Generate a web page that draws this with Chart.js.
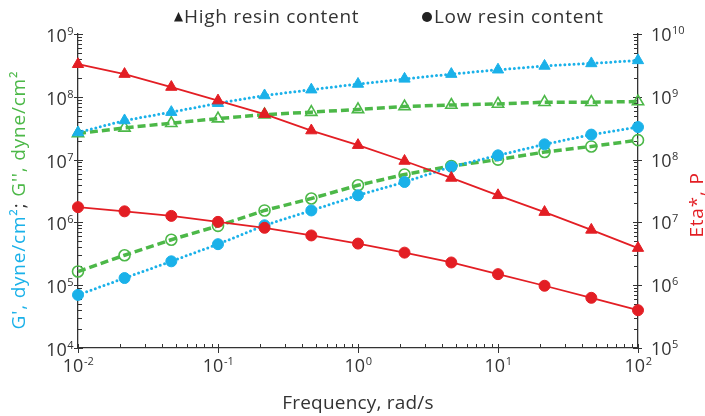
<!DOCTYPE html>
<html>
<head>
<meta charset="utf-8">
<script src="https://cdn.jsdelivr.net/npm/chart.js@4"></script>
<style>
  html, body { margin: 0; padding: 0; background: #fff; }
  #wrap { width: 705px; height: 416px; position: relative; }
</style>
</head>
<body>
<div id="wrap"><canvas id="chart" width="705" height="416"></canvas></div>
<script>
// frequency, rad/s (3 points per decade)
const freq = [0.01, 0.0215, 0.0464, 0.1, 0.215, 0.464, 1, 2.15, 4.64, 10, 21.5, 46.4, 100];

// high resin content
const highGp  = [2.7e7, 4.2e7, 5.7e7, 7.9e7, 1.05e8, 1.3e8, 1.6e8, 1.93e8, 2.3e8, 2.7e8, 3.1e8, 3.4e8, 3.8e8];
const highGpp = [2.6e7, 3.2e7, 3.8e7, 4.5e7, 5.2e7, 5.7e7, 6.3e7, 7.0e7, 7.4e7, 7.7e7, 8.2e7, 8.2e7, 8.4e7];
const highEta = [3.3e9, 2.3e9, 1.43e9, 8.7e8, 5.3e8, 2.9e8, 1.7e8, 9.5e7, 5.1e7, 2.7e7, 1.46e7, 7.6e6, 3.9e6];

// low resin content
const lowGp  = [7.0e4, 1.3e5, 2.4e5, 4.5e5, 9.0e5, 1.55e6, 2.7e6, 4.4e6, 7.7e6, 1.17e7, 1.75e7, 2.5e7, 3.3e7];
const lowGpp = [1.65e5, 3.0e5, 5.3e5, 8.8e5, 1.55e6, 2.4e6, 3.9e6, 5.8e6, 7.9e6, 1.0e7, 1.32e7, 1.62e7, 2.04e7];
const lowEta = [1.75e7, 1.5e7, 1.27e7, 1.02e7, 8.2e6, 6.2e6, 4.6e6, 3.3e6, 2.3e6, 1.5e6, 9.8e5, 6.3e5, 4.0e5];

// tick exponents
const xExp = [-2, -1, 0, 1, 2];
const yExp = [4, 5, 6, 7, 8, 9];
const y2Exp = [5, 6, 7, 8, 9, 10];

const BLUE = '#1ab1e9';
const GREEN = '#4cb848';
const RED = '#e31e24';
const TXT = '#333333';
const FONT = '"Open Sans", "Noto Sans", sans-serif';

const pts = arr => arr.map((v, i) => ({ x: freq[i], y: v }));

function dotted(data, color, style, axis) {
  return {
    data: pts(data), yAxisID: axis,
    borderColor: color, borderWidth: 3, borderDash: [0, 4.6], borderCapStyle: 'round',
    pointStyle: style, pointRadius: style === 'triangle' ? 6.5 : 5.5,
    pointBackgroundColor: color, pointBorderColor: color, pointBorderWidth: 1,
    tension: 0
  };
}
function dashed(data, color, style, axis) {
  return {
    data: pts(data), yAxisID: axis,
    borderColor: color, borderWidth: 3.5, borderDash: [8, 4], borderCapStyle: 'butt',
    pointStyle: style, pointRadius: style === 'triangle' ? 6.5 : 5.5,
    pointBackgroundColor: 'rgba(0,0,0,0)', pointBorderColor: color, pointBorderWidth: 1.6,
    tension: 0
  };
}
function solid(data, color, style, axis) {
  return {
    data: pts(data), yAxisID: axis,
    borderColor: color, borderWidth: 1.8,
    pointStyle: style, pointRadius: style === 'triangle' ? 6.5 : 5.5,
    pointBackgroundColor: color, pointBorderColor: color, pointBorderWidth: 1,
    tension: 0
  };
}

function drawPow(ctx, exp, x, y, align) {
  // "10" with a raised exponent; y is the baseline of "10"
  ctx.font = '18px ' + FONT;
  const w10 = ctx.measureText('10').width;
  ctx.font = '11px ' + FONT;
  const e = String(exp);
  const we = ctx.measureText(e).width;
  let sx = x;
  if (align === 'right') sx = x - w10 - we;
  else if (align === 'center') sx = x - (w10 + we) / 2;
  ctx.fillStyle = TXT;
  ctx.textAlign = 'left';
  ctx.textBaseline = 'alphabetic';
  ctx.font = '18px ' + FONT;
  ctx.fillText('10', sx, y);
  ctx.font = '11px ' + FONT;
  ctx.fillText(e, sx + w10 + 0.5, y - 7);
}

const decor = {
  id: 'decor',
  beforeDatasetsDraw(chart) {
    const ctx = chart.ctx;
    const { x, y, y2 } = chart.scales;
    const a = chart.chartArea;
    ctx.save();
    ctx.strokeStyle = TXT;
    ctx.lineWidth = 1;
    // x ticks
    for (let d = -2; d <= 2; d++) {
      const px = Math.round(x.getPixelForValue(Math.pow(10, d))) + 0.5;
      ctx.beginPath(); ctx.moveTo(px, a.bottom - 4); ctx.lineTo(px, a.bottom + 5); ctx.stroke();
      if (d < 2) {
        for (let m = 2; m <= 9; m++) {
          const mx = Math.round(x.getPixelForValue(m * Math.pow(10, d))) + 0.5;
          ctx.beginPath(); ctx.moveTo(mx, a.bottom); ctx.lineTo(mx, a.bottom - 4); ctx.stroke();
        }
      }
    }
    // left y ticks
    for (let d = 4; d <= 9; d++) {
      const py = Math.round(y.getPixelForValue(Math.pow(10, d))) + 0.5;
      ctx.beginPath(); ctx.moveTo(a.left - 4, py); ctx.lineTo(a.left + 5, py); ctx.stroke();
      if (d < 9) {
        for (let m = 2; m <= 9; m++) {
          const my = Math.round(y.getPixelForValue(m * Math.pow(10, d))) + 0.5;
          ctx.beginPath(); ctx.moveTo(a.left, my); ctx.lineTo(a.left + 4, my); ctx.stroke();
        }
      }
    }
    // right y ticks
    for (let d = 5; d <= 10; d++) {
      const py = Math.round(y2.getPixelForValue(Math.pow(10, d))) + 0.5;
      ctx.beginPath(); ctx.moveTo(a.right - 5, py); ctx.lineTo(a.right + 4, py); ctx.stroke();
      if (d < 10) {
        for (let m = 2; m <= 9; m++) {
          const my = Math.round(y2.getPixelForValue(m * Math.pow(10, d))) + 0.5;
          ctx.beginPath(); ctx.moveTo(a.right, my); ctx.lineTo(a.right - 4, my); ctx.stroke();
        }
      }
    }
    ctx.restore();
  },
  afterDraw(chart) {
    const ctx = chart.ctx;
    const { x, y, y2 } = chart.scales;
    const a = chart.chartArea;
    ctx.save();
    // tick labels
    xExp.forEach(e => drawPow(ctx, e, x.getPixelForValue(Math.pow(10, e)), a.bottom + 24, 'center'));
    yExp.forEach(e => drawPow(ctx, e, a.left - 5, y.getPixelForValue(Math.pow(10, e)) + 8, 'right'));
    y2Exp.forEach(e => drawPow(ctx, e, a.right + 13, y2.getPixelForValue(Math.pow(10, e)) + 7, 'left'));

    // x title
    ctx.font = '19px ' + FONT;
    ctx.letterSpacing = '0.2px';
    ctx.fillStyle = TXT;
    ctx.textAlign = 'center';
    ctx.textBaseline = 'alphabetic';
    ctx.fillText('Frequency, rad/s', (a.left + a.right) / 2, 409);

    // left title, blue / dark / green pieces
    const t1 = "G', dyne/cm²", t2 = '; ', t3 = "G'', dyne/cm²";
    ctx.save();
    ctx.translate(25, 200);
    ctx.rotate(-Math.PI / 2);
    ctx.font = '19px ' + FONT;
    ctx.letterSpacing = '0.8px';
    ctx.textAlign = 'left';
    const w1 = ctx.measureText(t1).width, w2 = ctx.measureText(t2).width, w3 = ctx.measureText(t3).width;
    const s = -(w1 + w2 + w3) / 2;
    ctx.fillStyle = BLUE; ctx.fillText(t1, s, 0);
    ctx.fillStyle = TXT; ctx.fillText(t2, s + w1, 0);
    ctx.fillStyle = GREEN; ctx.fillText(t3, s + w1 + w2, 0);
    ctx.restore();

    // right title
    ctx.save();
    ctx.translate(703, 205);
    ctx.rotate(-Math.PI / 2);
    ctx.font = '19px ' + FONT;
    ctx.letterSpacing = '0.8px';
    ctx.textAlign = 'center';
    ctx.fillStyle = RED;
    ctx.fillText('Eta*, P', 0, 0);
    ctx.restore();

    // legend
    ctx.fillStyle = '#222';
    ctx.beginPath();
    ctx.moveTo(178.5, 12); ctx.lineTo(183, 21.5); ctx.lineTo(174, 21.5); ctx.closePath(); ctx.fill();
    ctx.beginPath(); ctx.arc(427, 17, 5, 0, Math.PI * 2); ctx.fill();
    ctx.fillStyle = TXT;
    ctx.font = '19px ' + FONT;
    ctx.letterSpacing = '0.7px';
    ctx.textAlign = 'left';
    ctx.fillText('High resin content', 184, 23);
    ctx.fillText('Low resin content', 434, 23);
    ctx.restore();
  }
};

new Chart(document.getElementById('chart'), {
  type: 'line',
  data: {
    datasets: [
      solid(highEta, RED, 'triangle', 'y2'),
      solid(lowEta, RED, 'circle', 'y2'),
      dotted(highGp, BLUE, 'triangle', 'y'),
      dotted(lowGp, BLUE, 'circle', 'y'),
      dashed(highGpp, GREEN, 'triangle', 'y'),
      dashed(lowGpp, GREEN, 'circle', 'y')
    ]
  },
  options: {
    responsive: false,
    animation: false,
    clip: false,
    layout: { padding: { left: 70, right: 59, top: 34, bottom: 60 } },
    plugins: { legend: { display: false }, tooltip: { enabled: false } },
    scales: {
      x: {
        type: 'logarithmic', min: 0.01, max: 100,
        ticks: { display: false }, grid: { display: false },
        border: { display: true, color: TXT, width: 1.3 }
      },
      y: {
        type: 'logarithmic', position: 'left', min: 1e4, max: 1e9,
        ticks: { display: false }, grid: { display: false },
        border: { display: true, color: TXT, width: 1.3 }
      },
      y2: {
        type: 'logarithmic', position: 'right', min: 1e5, max: 1e10,
        ticks: { display: false }, grid: { display: false },
        border: { display: true, color: TXT, width: 1.3 }
      }
    }
  },
  plugins: [decor]
});
</script>
</body>
</html>
